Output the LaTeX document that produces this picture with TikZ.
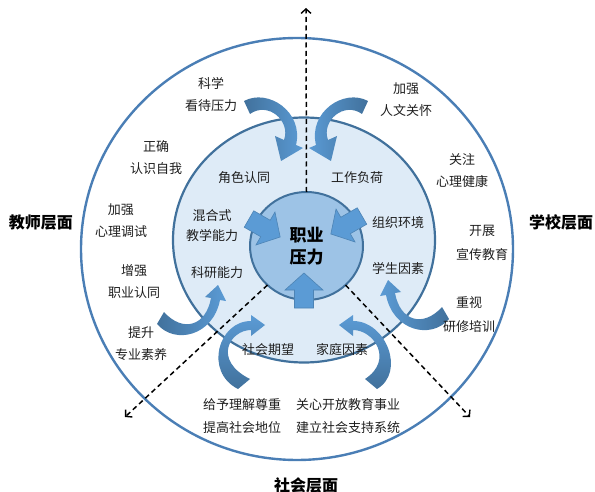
\documentclass[tikz,border=0pt]{standalone}
\usepackage{fontspec}
\newfontfamily\cjk{Noto Sans CJK SC}
\usetikzlibrary{arrows.meta,shapes.geometric}
\definecolor{ringblue}{HTML}{41719C}
\definecolor{outerblue}{HTML}{4A7EB5}
\definecolor{innerfill}{HTML}{DEEBF7}
\definecolor{corefill}{HTML}{9DC3E6}
\definecolor{arrowlight}{HTML}{5B9BD5}
\definecolor{arrowdark}{HTML}{41719C}
\definecolor{txt}{HTML}{1E1E1E}
\begin{document}
\begin{tikzpicture}[x=1pt,y=-1pt,
  ringshape/.style={ellipse,inner sep=0pt,outer sep=0pt},
  body/.style={font=\cjk\fontsize{13}{22}\selectfont,text=txt,align=center,inner sep=0pt},
  level/.style={font=\cjk\bfseries\fontsize{16}{20}\selectfont,text=black,inner sep=0pt},
  guide/.style={draw=black,line width=1.5pt,dash pattern=on 5pt off 3.5pt,
    -{Straight Barb[length=4.5pt,width=10pt,line width=1.4pt]}},
  blockarr/.style={fill=arrowlight,draw=arrowlight!85!black,line width=0.6pt},
  curveLR/.style={left color=arrowdark,right color=arrowlight},
  curveRL/.style={left color=arrowlight,right color=arrowdark},
  curveBT/.style={top color=arrowlight,bottom color=arrowdark}]
\useasboundingbox (0,0) rectangle (595,492);

% rings
\node[ringshape,draw=outerblue,line width=2.4pt,minimum width=432pt,minimum height=422pt] (outer) at (297,249) {};
\node[ringshape,draw=ringblue,fill=innerfill,line width=2.2pt,minimum width=262pt,minimum height=245pt] (inner) at (304,240) {};

% core
\node[ringshape,draw=ringblue,fill=corefill,line width=2pt,minimum width=113pt,minimum height=108pt,
  font=\cjk\bfseries\fontsize{17}{22}\selectfont,align=center] (core) at (306.5,246) {职业\\压力};

% dashed guides
\coordinate (tipN) at (306,8);
\coordinate (tipSW) at (125,417);
\coordinate (tipSE) at (470,417);
\draw[guide] (core.north) -- (tipN);
\draw[guide] (core.-135) -- (tipSW);
\draw[guide] (core.-45) -- (tipSE);

% block arrows into core
\begin{scope}[shift={(249,219)},rotate=-30]
\draw[blockarr] (0,-9.5) -- (19,-9.5) -- (19,-19) -- (36,0) -- (19,19) -- (19,9.5) -- (0,9.5) -- cycle;
\end{scope}
\begin{scope}[shift={(362,216)},rotate=210]
\draw[blockarr] (0,-9.5) -- (19,-9.5) -- (19,-19) -- (36,0) -- (19,19) -- (19,9.5) -- (0,9.5) -- cycle;
\end{scope}
\begin{scope}[shift={(304,308)},rotate=90]
\draw[blockarr] (0,-9.5) -- (18,-9.5) -- (18,-19) -- (35,0) -- (18,19) -- (18,9.5) -- (0,9.5) -- cycle;
\end{scope}

% curved arrows
% top-left
\shade[curveLR] (244,101) .. controls (268,88) and (304,112) .. (296,145)
  -- (303,148) -- (281,161) -- (275,136) -- (284,140)
  .. controls (291,121) and (268,101) .. (250,114) -- cycle;
% top-right
\shade[curveRL] (368,101) .. controls (344,88) and (308,112) .. (316,145)
  -- (309,148) -- (331,161) -- (337,136) -- (328,140)
  .. controls (321,121) and (344,101) .. (362,114) -- cycle;
% left (keyan)
\shade[curveLR] (157,324) .. controls (175,345) and (213,336) .. (220,300)
  -- (226,301) -- (218,285) -- (205,297) -- (211,298)
  .. controls (206,326) and (183,333) .. (164,312) -- cycle;
% right (xuesheng)
\shade[curveRL] (449,319) .. controls (431,340) and (393,331) .. (386,295)
  -- (380,296) -- (388,280) -- (401,292) -- (395,293)
  .. controls (400,321) and (423,328) .. (442,307) -- cycle;
% bottom-left (shehui)
\shade[curveBT] (238,389) .. controls (204,372) and (218,321) .. (251,321)
  -- (251,315) -- (265,325) -- (251,336) -- (251,330)
  .. controls (230,330) and (212,360) .. (250,379) -- cycle;
% bottom-right (jiating)
\shade[curveBT] (377,389) .. controls (406,372) and (386,321) .. (353,321)
  -- (353,315) -- (339,325) -- (353,336) -- (353,330)
  .. controls (374,330) and (394,360) .. (365,379) -- cycle;

% level labels
\node[level] (lvT) at (41,223) {教师层面};
\node[level] (lvS) at (561,222) {学校层面};
\node[level] (lvC) at (306,485) {社会层面};

% outer ring texts
\node[body] (t1) at (211,95) {科学\\看待压力};
\node[body] (t2) at (406,100) {加强\\人文关怀};
\node[body] (t3) at (156,158) {正确\\认识自我};
\node[body] (t4) at (462,171) {关注\\心理健康};
\node[body] (t5) at (121,221) {加强\\心理调试};
\node[body,font=\cjk\fontsize{13}{24}\selectfont] (t6) at (482,243) {开展\\宣传教育};
\node[body] (t7) at (134,282) {增强\\职业认同};
\node[body,font=\cjk\fontsize{13}{24}\selectfont] (t8) at (469,315) {重视\\研修培训};
\node[body] (t9) at (141,344) {提升\\专业素养};
\node[body,font=\cjk\fontsize{13}{23}\selectfont] (t10) at (242,416.5) {给予理解尊重\\提高社会地位};
\node[body,font=\cjk\fontsize{13}{23}\selectfont] (t11) at (348,416.5) {关心开放教育事业\\建立社会支持系统};

% inner ring texts
\node[body] (f1) at (244,178) {角色认同};
\node[body] (f2) at (357,178) {工作负荷};
\node[body,font=\cjk\fontsize{13}{20}\selectfont] (f3) at (212,226) {混合式\\教学能力};
\node[body] (f4) at (217,273) {科研能力};
\node[body] (f5) at (398,223) {组织环境};
\node[body] (f6) at (398,268) {学生因素};
\node[body] (f7) at (268,350) {社会期望};
\node[body] (f8) at (342,350) {家庭因素};
\end{tikzpicture}
\end{document}
